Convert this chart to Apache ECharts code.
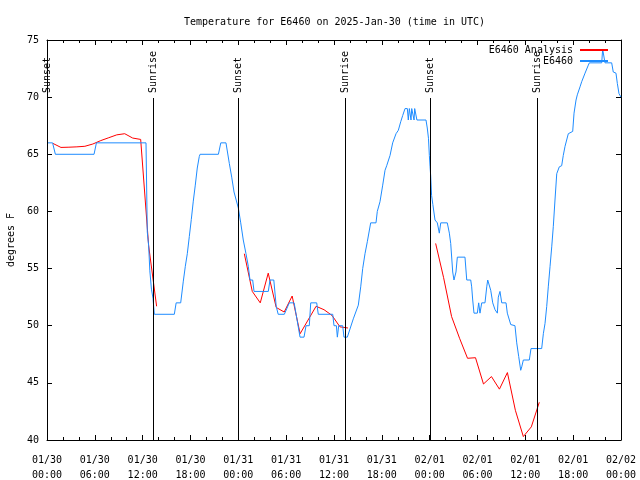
<!DOCTYPE html>
<html><head><meta charset="utf-8">
<script src="https://cdn.jsdelivr.net/npm/echarts@6/dist/echarts.min.js"></script>
<style>html,body{margin:0;padding:0;background:#fff}#c{width:640px;height:480px}</style>
</head><body><div id="c"></div>
<script>
// ---- data (x in hours since 2025-01-30 00:00 UTC, y in degrees F) ----
const xTickLabels = ['01/30\n00:00','01/30\n06:00','01/30\n12:00','01/30\n18:00','01/31\n00:00','01/31\n06:00','01/31\n12:00','01/31\n18:00','02/01\n00:00','02/01\n06:00','02/01\n12:00','02/01\n18:00','02/02\n00:00'];
const sunHours = [0, 13.34, 24.0, 37.45, 48.1, 61.5];
const sunNames = ['Sunset','Sunrise','Sunset','Sunrise','Sunset','Sunrise'];

const obsDay1 = [[0,66],[0.7,66],[1.05,65],[5.9,65],[6.2,66],[12.42,66],
 [12.58,58.2],[12.75,57],[12.9,54.8],[13.1,53.2],[13.3,52.4],[13.46,51],
 [15.97,51],[16.2,52],[16.77,52],
 [17.1,53.9],[17.35,55.2],[17.6,56.3],[17.85,57.8],[18.1,59.3],[18.35,60.9],[18.6,62.3],[18.85,63.8],[19.1,64.8],[19.2,65],
 [21.5,65],[21.8,66],[22.45,66],
 [22.87,64.2],[23.17,63.0],[23.46,61.7]];
const obsDay2 = [[24.0,60.3],[24.3,59.0],[24.62,57.5],[24.96,56.3],[25.25,55.2],[25.46,54],[25.8,54],[25.97,53],
 [27.76,53],[27.97,54],[28.45,54],[28.75,51.7],[29.0,51],[29.77,51],[30.39,52],[31.0,52],[31.74,49],[32.24,49],[32.49,50],[32.9,50],[33.08,52],[33.83,52],[34.03,51],[35.84,51],[36.0,50],[36.3,50],[36.42,49],[36.59,50],[37.09,50],[37.25,49],[37.67,49],
 [38.42,50.6],[39.05,51.8],[39.35,53.4],[39.6,55.0],[39.89,56.3],[40.18,57.35],[40.6,59],[41.27,59],[41.43,60],[41.77,60.85],[42.11,62.3],[42.4,63.6],[42.61,64],[43.03,64.9],[43.36,66],[43.78,66.8],[44.07,67.1],[44.37,67.85],[44.62,68.4],[44.91,69],
 [45.2,69],[45.32,68],[45.45,69],[45.58,69],[45.66,68],[45.75,69],[45.95,69],[46.04,68],[46.12,69],[46.3,69],[46.4,68],[47.54,68],
 [47.7,67.3],[47.85,66.4],[47.96,64.9],[48.05,63.9]];
const obsDay3 = [[48.13,63.1],[48.24,61.4],[48.4,60.6],[48.67,59.25],[48.96,59],[49.21,58.1],[49.39,59],[50.21,59],[50.47,58.1],[50.64,57.2],[50.89,54.7],[51.05,54],[51.3,54.7],[51.47,56],[52.43,56],[52.65,54],[53.15,54],[53.27,53.4],[53.4,52.25],[53.56,51.1],[53.98,51.1],[54.15,52],[54.31,51.1],[54.53,52],[54.94,52],[55.16,53.4],[55.28,54],[55.48,54],[55.66,53.1],[55.91,52],[56.2,51.4],[56.49,51.1],[56.61,52.5],[56.82,53],[57.04,52],[57.58,52],[57.74,51.1],[57.99,51],[58.17,50.1],[58.7,50],[58.92,48.5],[59.17,47.3],[59.42,46.1],[59.55,46.4],[59.75,47],[60.5,47],[60.71,48],[62.05,48],
 [62.26,49.3],[62.47,50.2],[62.68,51.67],[62.88,53.4],[63.1,55.2],[63.31,56.9],[63.51,58.7],[63.72,61],[63.94,63.3],[64.26,63.9],[64.56,64],[64.76,64.9],[64.98,65.7],[65.39,66.8],[65.94,67],[66.11,68.6],[66.36,69.75],[66.52,70.2],[66.86,70.9],[67.07,71.35],[67.49,72.1],[67.9,72.8],[68.03,73],[69.58,73],[69.7,74.2],[69.87,74.2],[69.99,73],[70.83,73],[71.03,72.2],[71.37,72.1],[71.54,71.2],[71.75,70.3],[72,70]];

// analysis: hourly values starting at the given hour
const anaStarts = [0.75, 24.75, 48.75];
const anaNight1 = [65.95,65.6,65.62,65.65,65.7,65.9,66.2,66.45,66.7,66.8,66.42,66.3,57.0,51.7];
const anaNight2 = [56.3,53.0,52.0,54.6,51.6,51.2,52.6,49.3,50.5,51.7,51.4,50.9,49.9,49.8];
const anaNight3 = [57.2,54.2,50.8,48.9,47.15,47.2,44.9,45.55,44.45,45.9,42.6,40.3,41.15,43.3];

// ---- chart ----
const FONT = 'DejaVu Sans Mono';
const BLUE = '#1e8cff', RED = '#ff0000';
const lineTop = 69.925;
const sunLines = [];
sunHours.forEach((h, i) => {
  sunLines.push([{coord:[h,40]},{coord:[h,lineTop]}]);
  sunLines.push([{coord:[h,lineTop],
    label:{show:true, formatter:sunNames[i], position:'insideStart', distance:5, fontFamily:FONT, fontSize:10, color:'#000', opacity:1},
    lineStyle:{color:'rgba(0,0,0,0)'}},{coord:[h,75]}]);
});
const anaSeries = [anaNight1, anaNight2, anaNight3].map((arr, k) => ({
  name:'E6460 Analysis', type:'line', symbol:'none', animation:false,
  data: arr.map((v, i) => [anaStarts[k] + i, v]),
  lineStyle:{color:RED, width:1}, itemStyle:{color:RED}
}));
const axisCommon = {
  axisLine:{show:true, onZero:false, lineStyle:{color:'#000', width:1}},
  splitLine:{show:false}
};
const chart = echarts.init(document.getElementById('c'));
chart.setOption({
  animation:false,
  backgroundColor:'#fff',
  title:{text:'Temperature for E6460 on 2025-Jan-30 (time in UTC)', left:184, top:17, padding:0,
    textStyle:{fontFamily:FONT, fontSize:10, fontWeight:'normal', color:'#000'}},
  legend:{data:['E6460 Analysis','E6460'], orient:'vertical', align:'right', right:31, top:45, padding:0,
    itemWidth:28, itemHeight:12, itemGap:1,
    itemStyle:{opacity:0, borderWidth:0},
    textStyle:{fontFamily:FONT, fontSize:10, color:'#000', padding:[0,2,0,0]}},
  grid:{left:47, right:19, top:40, bottom:40, containLabel:false, outerBoundsMode:'none'},
  xAxis:[
    Object.assign({type:'value', min:0, max:72, interval:6, position:'bottom',
      axisTick:{show:true, inside:true, length:5, lineStyle:{color:'#000'}},
      minorTick:{show:true, splitNumber:3, length:3, lineStyle:{color:'#000'}},
      axisLabel:{formatter:v => xTickLabels[Math.round(v/6)], fontFamily:FONT, fontSize:10, color:'#000', lineHeight:15, margin:13}
    }, axisCommon),
    Object.assign({type:'value', min:0, max:72, interval:6, position:'top',
      axisTick:{show:true, inside:true, length:5, lineStyle:{color:'#000'}},
      minorTick:{show:true, splitNumber:3, length:3, lineStyle:{color:'#000'}},
      axisLabel:{show:false}
    }, axisCommon)
  ],
  yAxis:[
    Object.assign({type:'value', min:40, max:75, interval:5, position:'left',
      name:'degrees F', nameLocation:'middle', nameGap:31,
      nameTextStyle:{fontFamily:FONT, fontSize:10, color:'#000'},
      axisTick:{show:true, inside:true, length:5, lineStyle:{color:'#000'}},
      axisLabel:{fontFamily:FONT, fontSize:10, color:'#000', margin:8}
    }, axisCommon),
    Object.assign({type:'value', min:40, max:75, interval:5, position:'right',
      axisTick:{show:true, inside:true, length:5, lineStyle:{color:'#000'}},
      axisLabel:{show:false}
    }, axisCommon)
  ],
  series: anaSeries.concat([{
    name:'E6460', type:'line', symbol:'none', animation:false,
    data: obsDay1.concat(obsDay2, obsDay3),
    lineStyle:{color:BLUE, width:1}, itemStyle:{color:BLUE},
    markLine:{silent:true, symbol:['none','none'], animation:false,
      lineStyle:{color:'#000', width:1, type:'solid'},
      label:{show:false},
      emphasis:{disabled:true},
      data: sunLines}
  }])
});
</script>
</body></html>
